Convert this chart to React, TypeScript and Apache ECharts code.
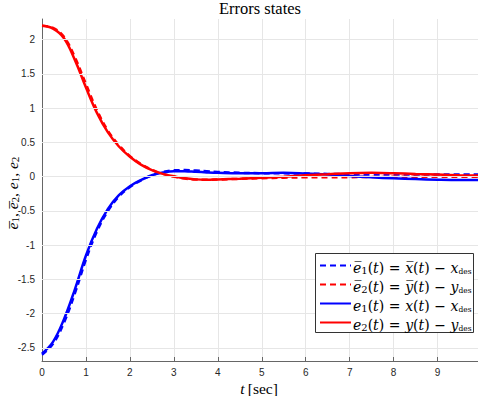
import React, { useEffect, useRef } from "react";
import * as echarts from "echarts";

const tValues = [0, 0.25, 0.5, 0.75, 1, 1.25, 1.5, 1.75, 2, 2.25, 2.5, 2.75, 3, 3.25, 3.5, 3.75, 4, 4.5, 5, 5.5, 6, 6.5, 7, 7.5, 8, 8.5, 9, 9.5, 10];
const e1Bar = [-2.6, -2.44, -2.13, -1.7, -1.21, -0.8, -0.5, -0.29, -0.15, -0.055, 0.02, 0.07, 0.092, 0.095, 0.088, 0.078, 0.068, 0.056, 0.05, 0.048, 0.045, 0.04, 0.035, 0.032, 0.03, 0.03, 0.03, 0.03, 0.03];
const e2Bar = [2.2, 2.17, 2.04, 1.74, 1.35, 0.97, 0.67, 0.46, 0.3, 0.185, 0.1, 0.04, 0.0, -0.028, -0.042, -0.045, -0.042, -0.032, -0.022, -0.015, -0.01, -0.01, -0.008, -0.005, -0.003, 0, 0, 0, 0];
const e1 = [-2.58, -2.41, -2.08, -1.64, -1.15, -0.76, -0.47, -0.27, -0.14, -0.05, 0.02, 0.06, 0.08, 0.078, 0.07, 0.062, 0.056, 0.05, 0.05, 0.055, 0.045, 0.03, 0.01, -0.01, -0.025, -0.035, -0.045, -0.05, -0.05];
const e2 = [2.2, 2.16, 2.02, 1.7, 1.3, 0.93, 0.645, 0.44, 0.29, 0.175, 0.095, 0.04, 0.005, -0.025, -0.04, -0.045, -0.04, -0.03, -0.015, 0.0, 0.02, 0.035, 0.05, 0.055, 0.05, 0.04, 0.03, 0.02, 0.015];
const xTicks = [0, 1, 2, 3, 4, 5, 6, 7, 8, 9];
const yTicks = [-2.5, -2, -1.5, -1, -0.5, 0, 0.5, 1, 1.5, 2];

const tnr = "'Liberation Serif', serif";
const djv = "'DejaVu Serif', serif";
const mkRich = (fam: string, size: number, sub: number, des: number, lh: number) => ({
  i: { font: `italic ${size}px ${fam}`, lineHeight: lh, verticalAlign: "bottom", fill: "#000" },
  n: { font: `${size}px ${fam}`, lineHeight: lh, verticalAlign: "bottom", fill: "#000" },
  s: { font: `${sub}px ${fam}`, lineHeight: lh, verticalAlign: "bottom", fill: "#000" },
  d: { font: `${des}px ${fam}`, lineHeight: lh, verticalAlign: "bottom", fill: "#000" },
});

const sp = "\u2004";
const legendRows = [
  { color: "#0000ff", dash: true, text: `{i|e\u0305}{s|1}{n|(}{i|t}{n|)${sp}=${sp}}{i|x\u0305}{n|(}{i|t}{n|)${sp}\u2212${sp}}{i|x}{d|des}` },
  { color: "#ff0000", dash: true, text: `{i|e\u0305}{s|2}{n|(}{i|t}{n|)${sp}=${sp}}{i|y\u0305}{n|(}{i|t}{n|)${sp}\u2212${sp}}{i|y}{d|des}` },
  { color: "#0000ff", dash: false, text: `{i|e}{s|1}{n|(}{i|t}{n|)${sp}=${sp}}{i|x}{n|(}{i|t}{n|)${sp}\u2212${sp}}{i|x}{d|des}` },
  { color: "#ff0000", dash: false, text: `{i|e}{s|2}{n|(}{i|t}{n|)${sp}=${sp}}{i|y}{n|(}{i|t}{n|)${sp}\u2212${sp}}{i|y}{d|des}` },
];

export default function App() {
  const ref = useRef<HTMLDivElement>(null);
  useEffect(() => {
    if (!ref.current) return;
    const chart = echarts.init(ref.current, null, { renderer: "svg" });
    const mk = (arr: number[]) => tValues.map((t, i) => [t, arr[i]]);
    const series: any[] = [
      { name: "e1bar", data: mk(e1Bar), color: "#0000ff", type: "dashed" },
      { name: "e2bar", data: mk(e2Bar), color: "#ff0000", type: "dashed" },
      { name: "e1", data: mk(e1), color: "#0000ff", type: "solid" },
      { name: "e2", data: mk(e2), color: "#ff0000", type: "solid" },
    ].map((s) => ({
      type: "line",
      name: s.name,
      data: s.data,
      smooth: 0.4,
      showSymbol: false,
      symbol: "none",
      lineStyle: { color: s.color, width: 2.5, type: s.type === "dashed" ? [6, 4] : "solid" },
      z: s.type === "dashed" ? 2 : 3,
    }));
    series.unshift({
      type: "line",
      name: "grid",
      data: [],
      z: 1,
      silent: true,
      markLine: {
        silent: true,
        symbol: ["none", "none"],
        label: { show: false },
        lineStyle: { color: "#e6e6e6", width: 1, type: "solid" },
        emphasis: { disabled: true },
        data: yTicks.map((v) => ({ yAxis: v })),
      },
    });

    const graphic: any[] = [
      { type: "text", x: 260, y: 8.5, style: { text: "Errors states", font: `16.5px ${tnr}`, fill: "#000", textAlign: "center", textVerticalAlign: "middle" } },
      { type: "text", x: 259, y: 387, style: { text: "{i|t} {n|[sec]}", rich: mkRich(tnr, 15.5, 11, 9, 18), textAlign: "center", textVerticalAlign: "middle" } },
      { type: "text", x: 11, y: 193, rotation: Math.PI / 2, style: { text: "{i|e\u0305}{s|1}{n|, }{i|e\u0305}{s|2}{n|, }{i|e}{s|1}{n|, }{i|e}{s|2}", rich: mkRich(tnr, 15.5, 11, 9, 18), textAlign: "center", textVerticalAlign: "middle" } },
      { type: "rect", z: 10, shape: { x: 315.5, y: 253.5, width: 158, height: 79 }, style: { fill: "#fff", stroke: "#333", lineWidth: 1 } },
    ];
    legendRows.forEach((r, i) => {
      const yc = 265.5 + i * 19;
      graphic.push({ type: "line", z: 11, shape: { x1: 320, y1: yc, x2: 351, y2: yc }, style: { stroke: r.color, lineWidth: 2, lineDash: r.dash ? [6, 4] : null } });
      graphic.push({ type: "text", z: 11, x: 353, y: yc + 0.5, style: { text: r.text, rich: mkRich(djv, 14, 10, 7.5, 18), textAlign: "left", textVerticalAlign: "middle" } });
    });

    chart.setOption({
      animation: false,
      grid: { left: 42, right: 0, top: 19, bottom: 35, containLabel: false },
      xAxis: {
        type: "value", min: 0, max: 9.92, interval: 1,
        axisLine: { show: true, onZero: false, lineStyle: { color: "#666", width: 1 } },
        axisTick: { show: true, inside: true, length: 4, lineStyle: { color: "#666" } },
        axisLabel: { color: "#262626", fontSize: 10, fontFamily: "Liberation Sans", margin: 6, showMaxLabel: false, formatter: (v: number) => (xTicks.includes(v) ? String(v) : "") },
        splitLine: { show: true, lineStyle: { color: "#e6e6e6", width: 1 } },
      },
      yAxis: {
        type: "value", min: -2.69, max: 2.3,
        axisLine: { show: true, onZero: false, lineStyle: { color: "#666", width: 1 } },
        axisTick: { show: true, inside: true, length: 4, lineStyle: { color: "#666" }, customValues: yTicks },
        axisLabel: { color: "#262626", fontSize: 10, fontFamily: "Liberation Sans", margin: 7, customValues: yTicks },
        splitLine: { show: false },
      },
      series,
      graphic,
    });
    return () => chart.dispose();
  }, []);
  return <div ref={ref} style={{ width: 478, height: 396, position: "absolute", left: 0, top: 0 }} />;
}
